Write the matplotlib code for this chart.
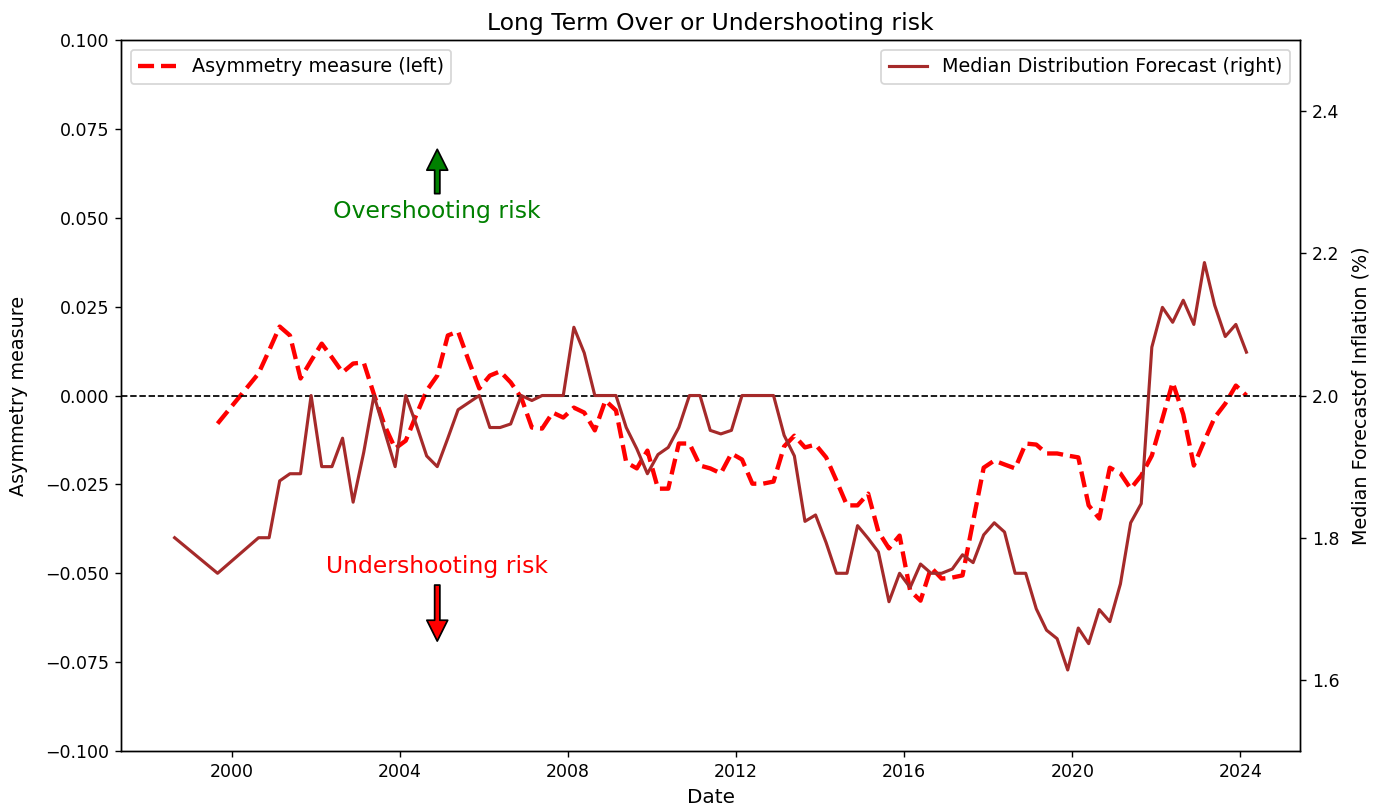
import numpy as np
import pandas as pd
import matplotlib as mpl
mpl.use('agg')
import matplotlib.pyplot as plt

# survey dates: two early annual points, then quarterly
early_dates = ['1998-08-24', '1999-09-01']
quarterly_start = '2000-08-22'
n_quarters = 95

# median of the long term forecast distribution (right axis, %)
median_forecast = [1.80, 1.75,
    1.80, 1.80, 1.88, 1.89, 1.89, 2.00, 1.90, 1.90, 1.94, 1.85,
    1.92, 2.00, 1.95, 1.90, 2.00, 1.96, 1.915, 1.90, 1.94, 1.98,
    1.99, 2.00, 1.955, 1.955, 1.96, 2.00, 1.993, 2.00, 2.00, 2.00,
    2.096, 2.06, 2.00, 2.00, 2.00, 1.955, 1.925, 1.89, 1.917, 1.927,
    1.955, 2.00, 2.00, 1.951, 1.946, 1.951, 2.00, 2.00, 2.00, 2.00,
    1.944, 1.915, 1.823, 1.832, 1.793, 1.75, 1.75, 1.817, 1.799, 1.78,
    1.71, 1.75, 1.73, 1.763, 1.75, 1.75, 1.756, 1.776, 1.765, 1.804,
    1.821, 1.808, 1.75, 1.75, 1.70, 1.67, 1.658, 1.614, 1.673, 1.651,
    1.699, 1.682, 1.735, 1.821, 1.848, 2.068, 2.124, 2.103, 2.134, 2.10,
    2.187, 2.127, 2.083, 2.10, 2.061]

# asymmetry of the distribution (left axis)
asymmetry = [np.nan, -0.0079,
    0.0062, 0.0127, 0.0194, 0.0169, 0.0048, 0.0098, 0.0146, 0.0107, 0.0065, 0.0090,
    0.0093, 0.0003, -0.0084, -0.0149, -0.0127, -0.0056, 0.0014, 0.0056, 0.0169, 0.0180,
    0.0098, 0.0020, 0.0056, 0.0068, 0.0037, -0.0006, -0.0090, -0.0093, -0.0048, -0.0062,
    -0.0034, -0.0048, -0.0098, -0.0014, -0.0042, -0.0188, -0.0205, -0.0155, -0.0262, -0.0262,
    -0.0135, -0.0135, -0.0197, -0.0205, -0.0219, -0.0163, -0.0180, -0.0248, -0.0248, -0.0242,
    -0.0143, -0.0113, -0.0146, -0.0138, -0.0174, -0.0239, -0.0309, -0.0309, -0.0276, -0.0383,
    -0.0430, -0.0394, -0.0549, -0.0577, -0.0484, -0.0515, -0.0512, -0.0506, -0.0354, -0.0203,
    -0.0183, -0.0194, -0.0205, -0.0135, -0.0138, -0.0163, -0.0163, -0.0169, -0.0174, -0.0309,
    -0.0346, -0.0203, -0.0219, -0.0262, -0.0225, -0.0169, -0.0065, 0.0037, -0.0053, -0.0197,
    -0.0127, -0.0062, -0.0023, 0.0028, 0.0000]

dates = pd.to_datetime(early_dates).append(
    pd.date_range(quarterly_start, periods=n_quarters, freq=pd.DateOffset(months=3)))
arrow_date = dates[19]

fig = plt.figure(figsize=(11.016, 6.48), dpi=125)
ax1 = fig.add_axes([0.0879, 0.0728, 0.8562, 0.8778])

ax1.plot(dates, asymmetry, color='red', linestyle='--', linewidth=2.5,
         label='Asymmetry measure (left)')
ax1.axhline(0, color='black', linestyle='--', linewidth=1)
ax1.set_ylim(-0.1, 0.1)
ax1.set_yticks(np.arange(-0.1, 0.1001, 0.025))
ax1.set_xlabel('Date', fontsize=11.5)
ax1.set_ylabel('Asymmetry measure', fontsize=11, labelpad=10)
ax1.set_title('Long Term Over or Undershooting risk', fontsize=13.5)
ax1.legend(loc='upper left', fontsize=11)

## arrows with the risk labels
ax1.annotate('Overshooting risk', xy=(arrow_date, 0.07), xytext=(arrow_date, 0.05),
             ha='center', color='green', fontsize=13.5,
             arrowprops=dict(facecolor='green', edgecolor='black', shrink=0.05,
                             width=3, headwidth=12, headlength=12))
ax1.annotate('Undershooting risk', xy=(arrow_date, -0.07), xytext=(arrow_date, -0.05),
             ha='center', color='red', fontsize=13.5,
             arrowprops=dict(facecolor='red', edgecolor='black', shrink=0.05,
                             width=3, headwidth=12, headlength=12))

ax2 = ax1.twinx()
ax2.plot(dates, median_forecast, color='brown', linewidth=1.8,
         label='Median Distribution Forecast (right)')
ax2.set_ylim(1.5, 2.5)
ax2.set_yticks([1.6, 1.8, 2.0, 2.2, 2.4])
ax2.set_ylabel('Median Forecastof Inflation (%)', fontsize=11, labelpad=7)
ax2.legend(loc='upper right', fontsize=11)

fig.savefig('out.png', dpi=125)
